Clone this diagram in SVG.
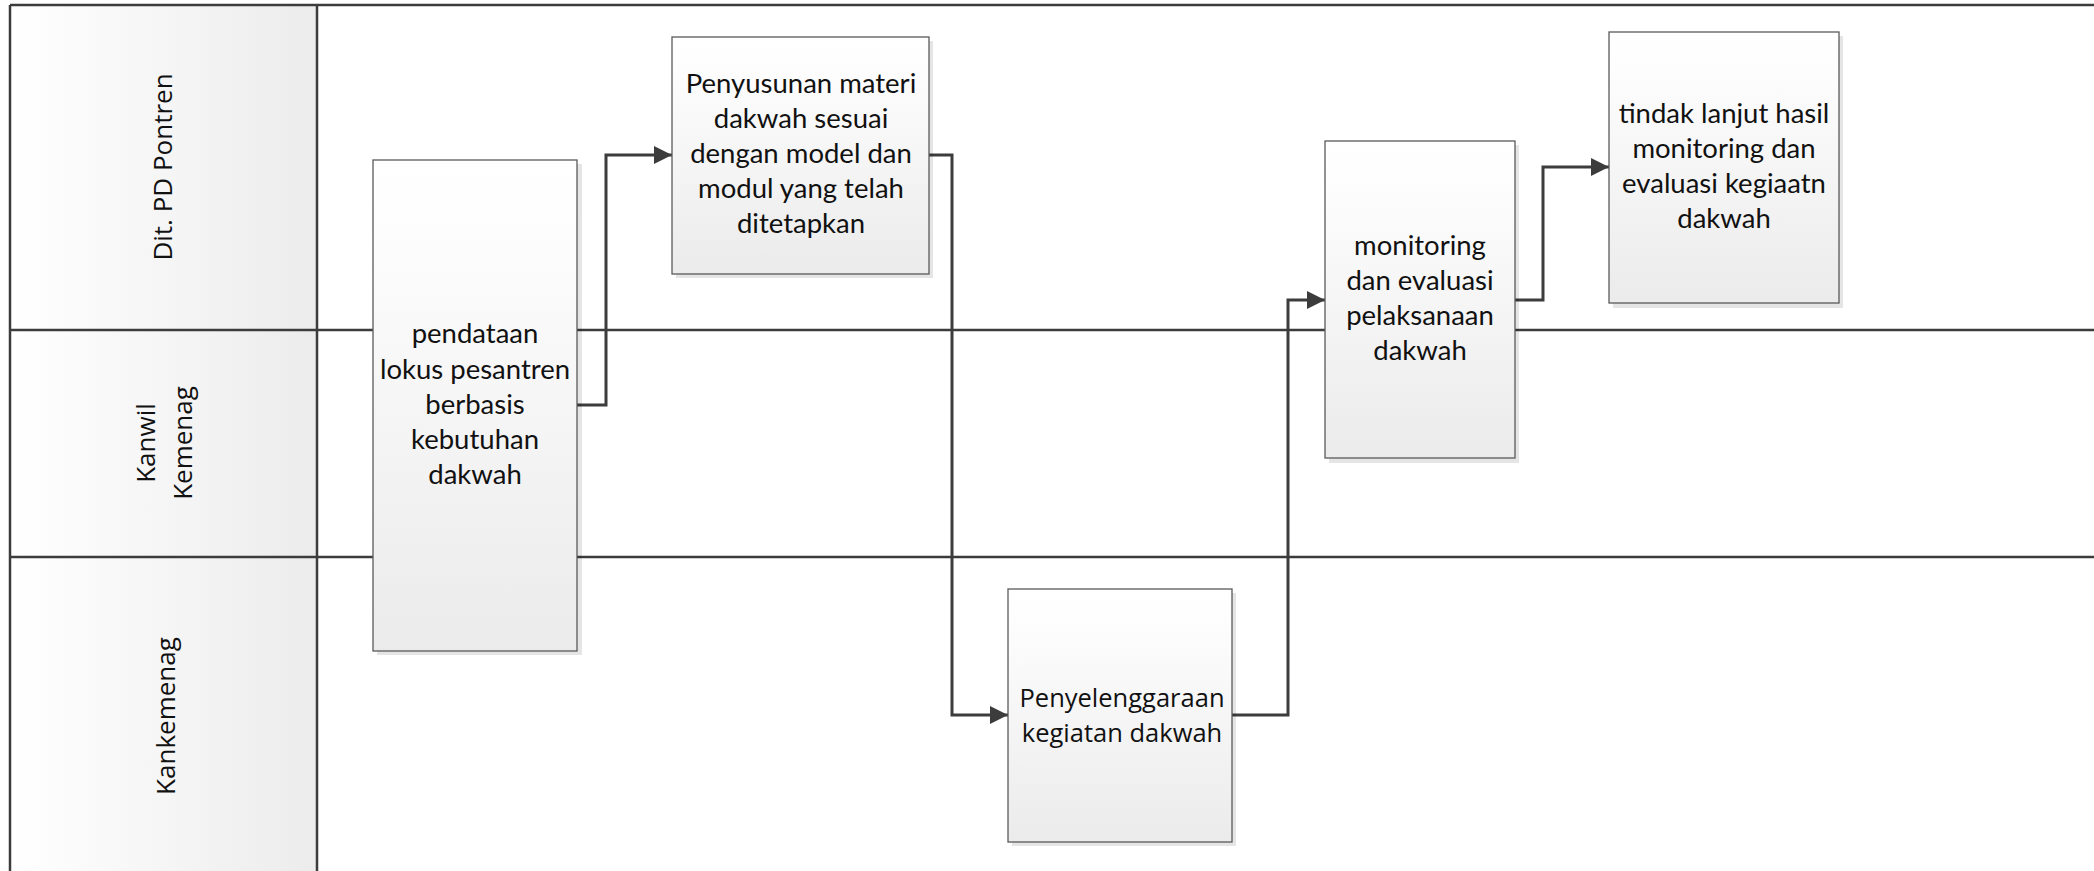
<svg xmlns="http://www.w3.org/2000/svg" width="2094" height="871" viewBox="0 0 2094 871">
<style>
.lane{stroke:#3c3c3c;stroke-width:2.5;fill:none}
.box{fill:url(#boxg);stroke:#5a5a5a;stroke-width:1.3}
.shadow{fill:#000;opacity:0.10}
.t{font-family:Lato,"Open Sans",sans-serif;font-size:27.5px;fill:#111;text-anchor:middle}
.t2{font-family:"Open Sans","Noto Sans",sans-serif;font-size:25.5px;fill:#111;text-anchor:middle}
.lbl{font-family:"Open Sans","Noto Sans",sans-serif;font-size:26px;fill:#111;text-anchor:middle}
.conn{stroke:#3c3c3c;stroke-width:3;fill:none;marker-end:url(#arr)}
</style>
<defs>
<linearGradient id="hdrg" x1="0" y1="0" x2="1" y2="0">
<stop offset="0" stop-color="#ffffff"/>
<stop offset="1" stop-color="#ececec"/>
</linearGradient>
<linearGradient id="boxg" x1="0" y1="0" x2="0" y2="1">
<stop offset="0" stop-color="#ffffff"/>
<stop offset="0.15" stop-color="#fdfdfd"/>
<stop offset="1" stop-color="#ebebeb"/>
</linearGradient>
<marker id="arr" markerUnits="userSpaceOnUse" markerWidth="19" markerHeight="18" refX="18" refY="9" orient="auto">
<path d="M0,0 L18,9 L0,18 z" fill="#3c3c3c"/>
</marker>
</defs>
<rect x="0" y="0" width="2094" height="871" fill="#ffffff"/>
<g id="pool">
<rect x="10" y="5" width="307" height="870" fill="url(#hdrg)"/>
<line class="lane" x1="10" y1="5" x2="2094" y2="5"/>
<line class="lane" x1="10" y1="330" x2="2094" y2="330"/>
<line class="lane" x1="10" y1="557" x2="2094" y2="557"/>
<line class="lane" x1="10" y1="5" x2="10" y2="871"/>
<line class="lane" x1="317" y1="5" x2="317" y2="871"/>
</g>
<g id="lane-dit">
<text class="lbl" transform="translate(172,167) rotate(-90)">Dit. PD Pontren</text>
</g>
<g id="lane-kanwil">
<text class="lbl" transform="translate(155,443) rotate(-90)">Kanwil</text>
<text class="lbl" transform="translate(192,443) rotate(-90)">Kemenag</text>
</g>
<g id="lane-kankemenag">
<text class="lbl" transform="translate(175,716) rotate(-90)">Kankemenag</text>
</g>
<g id="connectors">
<path class="conn" d="M577,405 H606 V155 H672"/>
<path class="conn" d="M929,155 H952 V715 H1008"/>
<path class="conn" d="M1232,715 H1288 V300 H1325"/>
<path class="conn" d="M1515,300 H1543 V167 H1609"/>
</g>
<g id="n-pendataan">
<rect class="shadow" x="377" y="164" width="205" height="491"/>
<rect class="box" x="373" y="160" width="204" height="491"/>
<text class="t"><tspan x="475" y="343">pendataan</tspan><tspan x="475" y="378.5">lokus pesantren</tspan><tspan x="475" y="414">berbasis</tspan><tspan x="475" y="449">kebutuhan</tspan><tspan x="475" y="484">dakwah</tspan></text>
</g>
<g id="n-penyusunan">
<rect class="shadow" x="676" y="41" width="257" height="237"/>
<rect class="box" x="672" y="37" width="257" height="237"/>
<text class="t"><tspan x="801" y="93">Penyusunan materi</tspan><tspan x="801" y="128">dakwah sesuai</tspan><tspan x="801" y="163">dengan model dan</tspan><tspan x="801" y="198">modul yang telah</tspan><tspan x="801" y="233">ditetapkan</tspan></text>
</g>
<g id="n-penyelenggaraan">
<rect class="shadow" x="1012" y="593" width="224" height="253"/>
<rect class="box" x="1008" y="589" width="224" height="253"/>
<text class="t2"><tspan x="1122" y="707">Penyelenggaraan</tspan><tspan x="1122" y="742">kegiatan dakwah</tspan></text>
</g>
<g id="n-monitoring">
<rect class="shadow" x="1329" y="145" width="190" height="318"/>
<rect class="box" x="1325" y="141" width="190" height="317"/>
<text class="t"><tspan x="1420" y="255">monitoring</tspan><tspan x="1420" y="290">dan evaluasi</tspan><tspan x="1420" y="325">pelaksanaan</tspan><tspan x="1420" y="360">dakwah</tspan></text>
</g>
<g id="n-tindak">
<rect class="shadow" x="1613" y="36" width="230" height="272"/>
<rect class="box" x="1609" y="32" width="230" height="271"/>
<text class="t"><tspan x="1724" y="122.5">tindak lanjut hasil</tspan><tspan x="1724" y="157.5">monitoring dan</tspan><tspan x="1724" y="192.5">evaluasi kegiaatn</tspan><tspan x="1724" y="228">dakwah</tspan></text>
</g>
</svg>
